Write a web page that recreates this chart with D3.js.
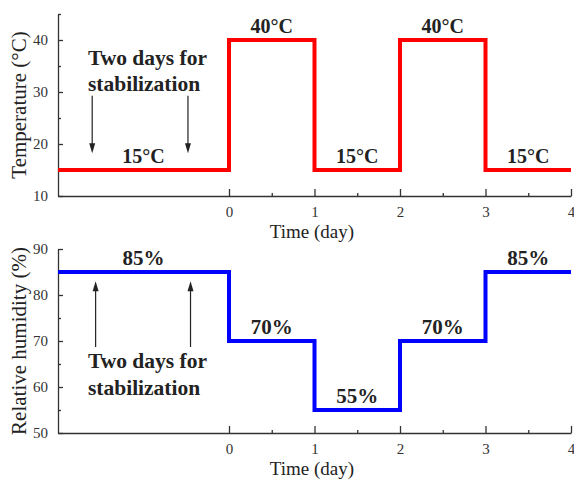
<html>
<head>
<script src="https://d3js.org/d3.v7.min.js"></script>
<style>
  body { margin: 0; background: #fff; }
  text { font-family: "Liberation Serif", "Times New Roman", serif; fill: #222; }
  .axis path, .axis line { stroke: #333; stroke-width: 1.3px; }
  .axis text { font-size: 15px; fill: #333; }
</style>
</head>
<body>
<svg id="vis" width="574" height="484"></svg>
<script>
// data
var days = [-2, 0, 1, 2, 3, 4]
var tempValues = [15, 40, 15, 40, 15, 15]
var rhValues = [85, 70, 55, 70, 85, 85]
var xTicks = [0, 1, 2, 3, 4]
var xMinor = [0.5, 1.5, 2.5, 3.5]
var tempTicks = [10, 20, 30, 40]
var tempMinor = [15, 25, 35, 45]
var rhTicks = [50, 60, 70, 80, 90]
var rhMinor = [55, 65, 75, 85]
var tempLabels = ["15°C", "40°C", "15°C", "40°C", "15°C"]
var rhLabels = ["85%", "70%", "55%", "70%", "85%"]

var svg = d3.select("#vis")
var x = d3.scaleLinear().domain([-2, 4]).range([58, 571])

function panel(opts) {
  var y = d3.scaleLinear().domain(opts.domain).range(opts.range)
  var g = svg.append("g")
  var y0 = opts.range[0]

  // x axis
  g.append("g").attr("class", "axis").attr("transform", "translate(0," + y0 + ")")
    .call(d3.axisBottom(x).tickValues(xTicks).tickSizeInner(-7).tickSizeOuter(0).tickPadding(10).tickFormat(d3.format("d")))
  g.append("g").attr("class", "axis").attr("transform", "translate(0," + y0 + ")")
    .call(d3.axisBottom(x).tickValues(xMinor).tickSizeInner(-3).tickSizeOuter(0).tickFormat(""))
    .select(".domain").remove()

  // y axis
  g.append("g").attr("class", "axis").attr("transform", "translate(58,0)")
    .call(d3.axisLeft(y).tickValues(opts.ticks).tickSizeInner(-5).tickSizeOuter(0).tickPadding(10))
  g.append("g").attr("class", "axis").attr("transform", "translate(58,0)")
    .call(d3.axisLeft(y).tickValues(opts.minor).tickSizeInner(-3).tickSizeOuter(0).tickFormat(""))
    .select(".domain").remove()

  // step line
  var line = d3.line().x(function(d, i){ return x(days[i]) }).y(function(d){ return y(d) }).curve(d3.curveStepAfter)
  g.append("path").datum(opts.values).attr("d", line)
    .attr("fill", "none").attr("stroke", opts.color).attr("stroke-width", 4)

  // step labels
  g.selectAll("text.lbl").data(opts.labels).enter().append("text")
    .attr("class", "lbl")
    .attr("x", function(d, i){ return x((days[i] + days[i + 1]) / 2) })
    .attr("y", function(d, i){ return y(opts.values[i]) - 7 })
    .attr("text-anchor", "middle").attr("font-weight", "bold").attr("font-size", opts.lblSize)
    .text(function(d){ return d })

  // axis titles
  g.append("text").attr("x", 312).attr("y", y0 + 42).attr("text-anchor", "middle")
    .attr("font-size", 19).text("Time (day)")
  g.append("text").attr("transform", "translate(26," + ((opts.range[0] + opts.range[1]) / 2) + ") rotate(-90)")
    .attr("text-anchor", "middle").attr("font-size", 21).text(opts.title)

  // annotation
  g.append("text").attr("x", x(-1.65)).attr("y", y(opts.note[0])).attr("font-weight", "bold")
    .attr("font-size", 21.5).text("Two days for")
  g.append("text").attr("x", x(-1.65)).attr("y", y(opts.note[1])).attr("font-weight", "bold")
    .attr("font-size", 21.5).text("stabilization")

  // arrows
  opts.arrows.forEach(function(a) {
    var x1 = x(a[0]), ya = y(a[1]), yb = y(a[2])
    var dir = yb > ya ? 1 : -1
    g.append("line").attr("x1", x1).attr("x2", x1).attr("y1", ya).attr("y2", yb - dir * 6)
      .attr("stroke", "#222").attr("stroke-width", 1.2)
    g.append("path").attr("d", "M" + (x1 - 3) + "," + (yb - dir * 10) + "L" + (x1 + 3) + "," + (yb - dir * 10) + "L" + x1 + "," + yb + "Z")
      .attr("fill", "#222")
  })
}

panel({
  domain: [10, 45], range: [196, 14], ticks: tempTicks, minor: tempMinor,
  values: tempValues, color: "#ff0000", labels: tempLabels, lblSize: 20,
  title: "Temperature (°C)", note: [35.1, 30.1],
  arrows: [[-1.6, 29.3, 18.2], [-0.48, 29.3, 18.2]]
})

panel({
  domain: [50, 90], range: [433, 249], ticks: rhTicks, minor: rhMinor,
  values: rhValues, color: "#0000ff", labels: rhLabels, lblSize: 21,
  title: "Relative humidity (%)", note: [64.2, 58.3],
  arrows: [[-1.56, 68.7, 83], [-0.45, 68.7, 83]]
})
</script>
</body>
</html>
